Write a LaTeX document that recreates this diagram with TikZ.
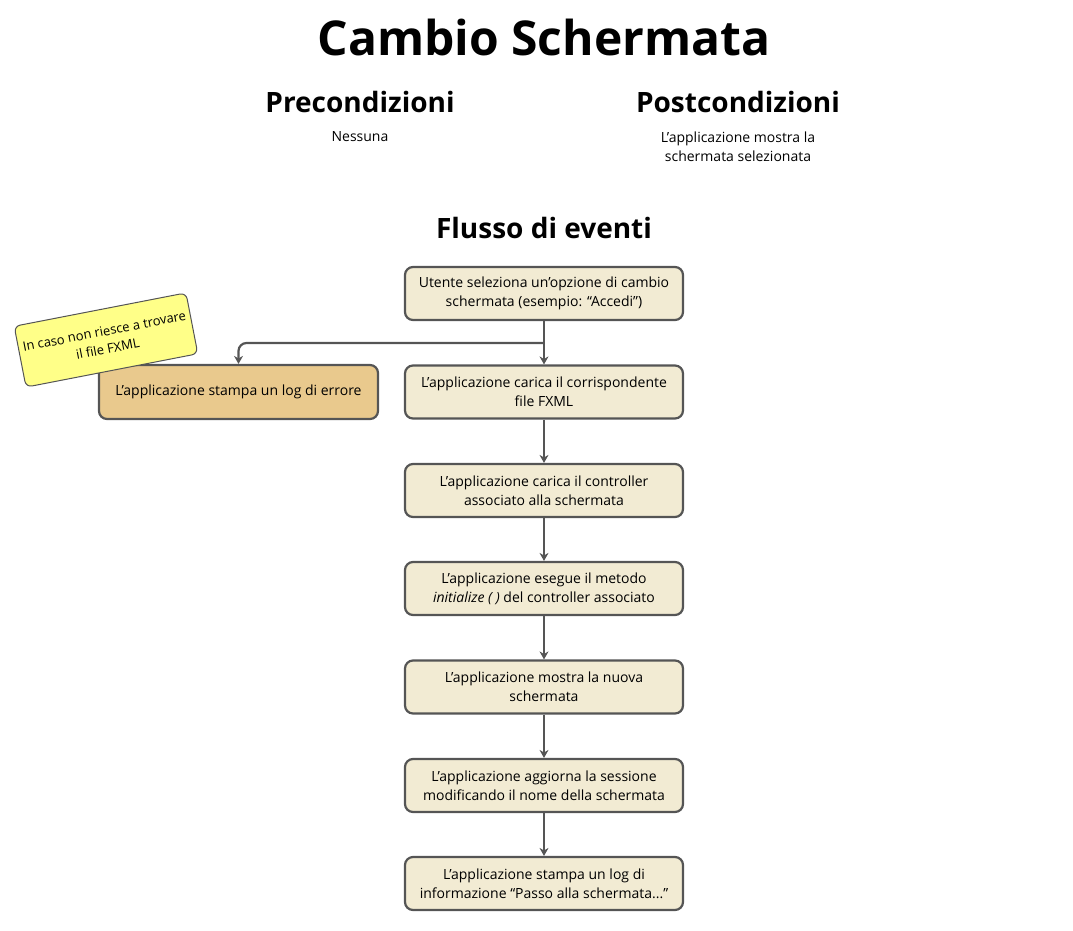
\documentclass[tikz,border=0pt]{standalone}
\usepackage{fontspec}
\setmainfont{Open Sans}
\usetikzlibrary{arrows.meta}
\definecolor{boxfill}{HTML}{F2EBD3}
\definecolor{errfill}{HTML}{E9C98D}
\definecolor{edge}{HTML}{555555}
\definecolor{sticky}{HTML}{FFFF88}
\tikzset{
  stepbox/.style={draw=edge, line width=2.2pt, rounded corners=8pt, fill=boxfill,
    minimum width=278pt, minimum height=53pt, align=center, inner sep=2pt,
    font=\fontsize{14}{19}\selectfont},
  errbox/.style={stepbox, fill=errfill, minimum width=279pt, minimum height=54pt},
  note/.style={fill=sticky, draw=edge, line width=1pt, rounded corners=6pt,
    minimum width=175pt, minimum height=62pt, align=center, inner sep=2pt,
    font=\fontsize{13}{18}\selectfont},
  conn/.style={draw=edge, line width=2.2pt, -{Stealth[length=8pt,width=9pt]}},
  heading/.style={font=\fontsize{28}{32}\selectfont\bfseries},
  body/.style={font=\fontsize{14}{19}\selectfont, align=center}
}
\begin{document}
\begin{tikzpicture}[x=1pt,y=-1pt]
\useasboundingbox (0,0) rectangle (1073,930);
\node[font=\fontsize{48}{52}\selectfont\bfseries] (title) at (544,37) {Cambio Schermata};
\node[heading] (pre) at (360,102) {Precondizioni};
\node[body] (pretxt) at (360,137) {Nessuna};
\node[heading] (post) at (738,102) {Postcondizioni};
\node[body] (posttxt) at (738,146.5) {L’applicazione mostra la\\schermata selezionata};
\node[heading] (flow) at (544,228) {Flusso di eventi};

\node[stepbox] (b1) at (544,293.5) {Utente seleziona un’opzione di cambio\\schermata (esempio: “Accedi”)};
\node[stepbox] (b2) at (544,392) {L’applicazione carica il corrispondente\\file FXML};
\node[stepbox] (b3) at (544,490.5) {L’applicazione carica il controller\\associato alla schermata};
\node[stepbox] (b4) at (544,588.5) {L’applicazione esegue il metodo\\\textit{initialize ( )} del controller associato};
\node[stepbox] (b5) at (544,687) {L’applicazione mostra la nuova\\schermata};
\node[stepbox] (b6) at (544,785.5) {L’applicazione aggiorna la sessione\\modificando il nome della schermata};
\node[stepbox] (b7) at (544,883.5) {L’applicazione stampa un log di\\informazione “Passo alla schermata...”};
\node[errbox] (err) at (238.5,392) {L’applicazione stampa un log di errore};

\coordinate (split) at (544,343);
\draw[conn] (b1.south) -- (b2.north);
\draw[conn, rounded corners=8pt] (split) -| (err.north);
\draw[conn] (b2) -- (b3);
\draw[conn] (b3) -- (b4);
\draw[conn] (b4) -- (b5);
\draw[conn] (b5) -- (b6);
\draw[conn] (b6) -- (b7);

\node[note, rotate=11] (nt) at (106,340) {In caso non riesce a trovare\\il file FXML};
\end{tikzpicture}
\end{document}
